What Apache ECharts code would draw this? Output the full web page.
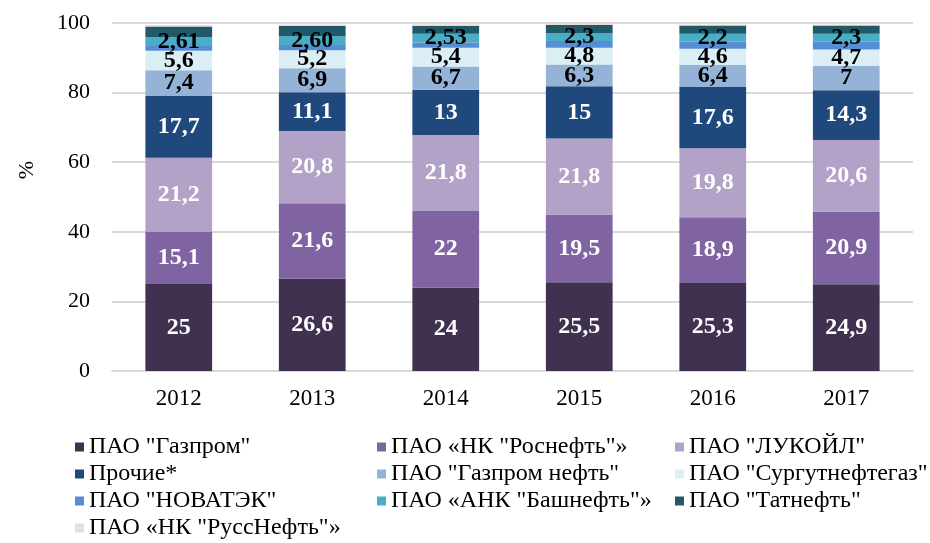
<!DOCTYPE html>
<html><head><meta charset="utf-8">
<script src="https://cdn.jsdelivr.net/npm/echarts@6/dist/echarts.min.js"></script>
<style>html,body{margin:0;padding:0;background:#fff}#c{width:930px;height:543px}</style>
</head><body><div id="c"></div>
<script>
const years = ['2012','2013','2014','2015','2016','2017'];
const gazprom = [25, 26.6, 24, 25.5, 25.3, 24.9];
const rosneft = [15.1, 21.6, 22, 19.5, 18.9, 20.9];
const lukoil = [21.2, 20.8, 21.8, 21.8, 19.8, 20.6];
const prochie = [17.7, 11.1, 13, 15, 17.6, 14.3];
const gazpromNeft = [7.4, 6.9, 6.7, 6.3, 6.4, 7];
const surgut = [5.6, 5.2, 5.4, 4.8, 4.6, 4.7];
const novatek = [1.4, 1.5, 1.5, 1.9, 2.1, 2.2];
const bashneft = [2.61, 2.60, 2.53, 2.3, 2.2, 2.3];
const bashneftLabels = ['2,61', '2,60', '2,53', '2,3', '2,2', '2,3'];
const tatneft = [3.0, 2.9, 2.3, 2.3, 2.4, 2.4];
const russneft = [0.4, 0.4, 0.4, 0.3, 0.3, 0.3];
const yTicks = [0, 20, 40, 60, 80, 100];

const names = ['ПАО "Газпром"', 'ПАО «НК "Роснефть"»', 'ПАО "ЛУКОЙЛ"', 'Прочие*', 'ПАО "Газпром нефть"', 'ПАО "Сургутнефтегаз"', 'ПАО "НОВАТЭК"', 'ПАО «АНК "Башнефть"»', 'ПАО "Татнефть"', 'ПАО «НК "РуссНефть"»'];
const datas = [gazprom, rosneft, lukoil, prochie, gazpromNeft, surgut, novatek, bashneft, tatneft, russneft];
const colors = ['#403151', '#8064a2', '#b3a2c7', '#1f497d', '#95b3d7', '#dbeef4', '#558ed5', '#4bacc6', '#215968', '#f2dcdb'];
const labelColor = ['#fff', '#fff', '#fff', '#fff', '#000', '#000', null, '#000', null, null];
const FONT = '"Liberation Serif", "Times New Roman", serif';

const series = names.map((n, i) => ({
  name: n, type: 'bar', stack: 'total', barWidth: '50%',
  data: datas[i],
  itemStyle: { color: colors[i] },
  label: labelColor[i] ? {
    show: true, position: 'inside', color: labelColor[i],
    fontFamily: FONT, fontWeight: 'bold', fontSize: 24,
    formatter: i === 7 ? (p => bashneftLabels[p.dataIndex]) : (p => String(p.value).replace('.', ','))
  } : { show: false },
  emphasis: { disabled: true }
}));

const legendBase = {
  orient: 'vertical', itemWidth: 9, itemHeight: 9, itemGap: 3, icon: 'rect', height: 200, padding: 0,
  textStyle: { fontFamily: FONT, fontSize: 24, color: '#000', lineHeight: 24 }
};

const chart = echarts.init(document.getElementById('c'), null, { renderer: 'canvas' });
chart.setOption({
  animation: false,
  backgroundColor: '#fff',
  grid: { left: 112, right: 17, top: 23, bottom: 172 },
  graphic: [{
    type: 'text', x: 27, y: 170, rotation: Math.PI / 2,
    style: { text: '%', font: '22px ' + FONT, fill: '#000', align: 'center', verticalAlign: 'middle' }
  }],
  legend: [
    Object.assign({}, legendBase, { left: 75, top: 435, data: [names[0], names[3], names[6], names[9]] }),
    Object.assign({}, legendBase, { left: 377, top: 435, data: [names[1], names[4], names[7]] }),
    Object.assign({}, legendBase, { left: 675, top: 435, data: [names[2], names[5], names[8]] })
  ],
  xAxis: {
    type: 'category', data: years,
    axisLine: { show: true, lineStyle: { color: '#d9d9d9', width: 2 } },
    axisTick: { show: false },
    axisLabel: { fontFamily: FONT, fontSize: 23, color: '#000', margin: 16 }
  },
  yAxis: {
    type: 'value', min: yTicks[0], max: yTicks[yTicks.length - 1], interval: 20,
    axisLine: { show: false }, axisTick: { show: false },
    splitLine: { lineStyle: { color: '#d9d9d9', width: 2 } },
    axisLabel: { fontFamily: FONT, fontSize: 22, color: '#000', margin: 22 }
  },
  series: series
});
</script></body></html>
